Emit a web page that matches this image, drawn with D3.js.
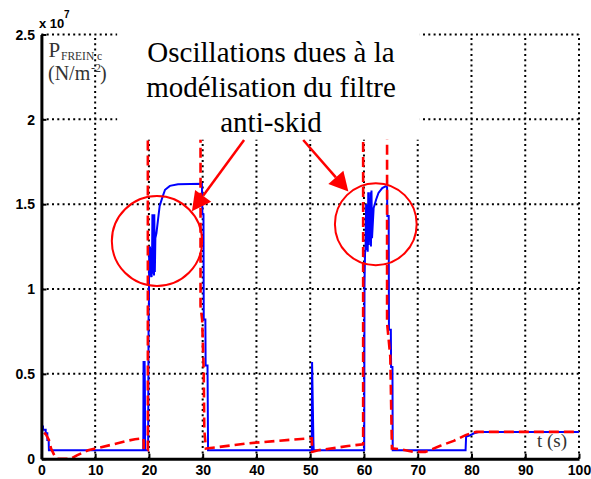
<!DOCTYPE html>
<html><head><meta charset="utf-8">
<script src="https://cdn.jsdelivr.net/npm/d3@7"></script>
<style>
body{margin:0;background:#fff;} svg{display:block;}
.serif{font-family:"Liberation Serif","DejaVu Serif",serif;}
.sans{font-family:"Liberation Sans","DejaVu Sans",sans-serif;font-weight:bold;}
</style>
</head><body>
<svg id="c" width="591" height="479"></svg>
<script>
// ---- data (pressure in units of 1e7 N/m^2, time in s) ----
const xTicks = [0,10,20,30,40,50,60,70,80,90,100];
const yTicks = [0,0.5,1,1.5,2,2.5];
const yTickLabels = ["0","0.5","1","1.5","2","2.5"];

// solid blue curve
const blueT = [0,0.05,0.3,0.3,0.8,0.8,1.1,1.1,1.35,1.4,
  18.95,19.0,19.2,19.25,19.3,19.85,19.95,20.0,20.05,20.1,20.2,20.3,20.4,20.5,20.6,20.65,20.7,20.8,20.95,21.0,21.1,21.2,21.4,21.7,22.0,22.5,23.0,23.9,25.4,29.85,29.95,30.15,30.2,30.5,30.55,30.9,31.0,
  50.3,50.35,50.6,50.65,
  60.05,60.1,60.2,60.3,60.4,60.5,60.6,60.7,60.8,60.9,61.0,61.1,61.2,61.3,61.4,61.5,61.8,62.25,62.7,63.4,64.0,64.3,64.35,64.6,64.65,65.0,65.05,65.3,65.35,
  78.9,79.0,79.5,80.5,81.5,100];
const blueV = [0.05,0.19,0.19,0.17,0.17,0.15,0.15,0.11,0.11,0.05,
  0.05,0.57,0.57,0.42,0.05,0.05,0.9,0.9,1.24,1.07,1.25,1.08,1.24,1.07,1.25,1.44,1.09,1.42,1.08,1.44,1.1,1.3,1.33,1.41,1.49,1.54,1.585,1.608,1.618,1.62,1.44,1.44,0.82,0.82,0.55,0.55,0.05,
  0.05,0.57,0.1,0.05,
  0.05,1.03,1.21,1.24,1.50,1.23,1.45,1.22,1.57,1.26,1.5,1.28,1.57,1.25,1.58,1.3,1.477,1.526,1.566,1.595,1.605,1.6,1.43,1.43,0.76,0.76,0.54,0.54,0.05,
  0.05,0.13,0.135,0.15,0.158,0.158];

// dashed red curve
const redT = [0,0.05,0.4,0.9,1.4,1.8,2.4,2.9,5.5,6.6,8.7,10.9,13.4,15.9,17.4,19.0,19.05,19.8,19.8,
  29.6,29.6,29.9,30.2,30.3,30.6,32.3,38.2,43.8,49.4,50.3,50.35,51.5,55.0,57.0,59.85,59.85,
  64.3,64.3,64.9,65.2,65.5,66.8,69.3,71.4,74.2,76.7,77.6,78.9,80.1,80.9,100];
const redV = [0,0.16,0.158,0.14,0.11,0.06,0.02,0,0,0.02,0.05,0.066,0.085,0.105,0.115,0.12,0.05,0.05,2.2,
  2.2,0.9,0.82,0.5,0.17,0.06,0.066,0.09,0.105,0.119,0.12,0.04,0.05,0.065,0.075,0.085,2.2,
  2.2,0.8,0.6,0.06,0.06,0.056,0.04,0.04,0.076,0.105,0.119,0.139,0.152,0.158,0.158];

const annotationLines = ["Oscillations dues à la","modélisation du filtre","anti-skid"];
// annotation geometry in data coordinates
const circles = [{t:21.5, v:1.283, rt:8.4, rv:0.265},{t:62.2, v:1.382, rt:7.6, rv:0.242}];
const arrows = [{t0:37.7, v0:1.878, t1:28.0, v1:1.459},{t0:48.7, v0:1.878, t1:57.1, v1:1.574}];
const textBox = {t0:14.1, t1:70.4, v0:1.88};

// ---- drawing ----
const svg = d3.select("#c");
const x = d3.scaleLinear().domain([0,100]).range([41.4,579]);
const y = d3.scaleLinear().domain([0,2.5]).range([458.7,34.5]);

// grid
const grid = svg.append("g").attr("stroke","#000").attr("stroke-width",2).attr("stroke-dasharray","2,3.3");
xTicks.filter(d=>d>0).forEach(t=>{
  grid.append("line").attr("x1",x(t)).attr("x2",x(t)).attr("y1",y(0)).attr("y2",y(2.5));
});
yTicks.filter(d=>d>0).forEach(v=>{
  grid.append("line").attr("x1",x(0)).attr("x2",x(100)).attr("y1",y(v)).attr("y2",y(v));
});

svg.append("clipPath").attr("id","clip").append("rect")
  .attr("x",x(0)).attr("y",y(2.5)).attr("width",x(100)-x(0)).attr("height",y(0)-y(2.5));

const line = d3.line().x(d=>x(d[0])).y(d=>y(d[1]));
const blue = blueT.map((t,i)=>[t,blueV[i]]);
const red = redT.map((t,i)=>[t,redV[i]]);

svg.append("path").datum(blue).attr("d",line).attr("clip-path","url(#clip)")
  .attr("fill","none").attr("stroke","#0000ff").attr("stroke-width",2).attr("stroke-linejoin","miter");
svg.append("path").datum(red).attr("d",line).attr("clip-path","url(#clip)")
  .attr("fill","none").attr("stroke","#ff0000").attr("stroke-width",2.6).attr("stroke-dasharray","10,5");

// white box behind annotation text
svg.append("rect").attr("x",x(textBox.t0)).attr("y",0)
  .attr("width",x(textBox.t1)-x(textBox.t0)).attr("height",y(textBox.v0)).attr("fill","#fff");

// annotation text
const ann = svg.append("text").attr("class","serif")
  .style("font-size","29px").attr("fill","#000").attr("text-anchor","middle");
[61.7,96.5,131.7].forEach((b,i)=>{
  ann.append("tspan").attr("x",271).attr("y",b).text(annotationLines[i]);
});

// circles
circles.forEach(c=>{
  svg.append("ellipse").attr("cx",x(c.t)).attr("cy",y(c.v))
    .attr("rx",x(c.t+c.rt)-x(c.t)).attr("ry",y(c.v)-y(c.v+c.rv))
    .attr("fill","none").attr("stroke","#ff0000").attr("stroke-width",2);
});
// arrows
arrows.forEach(a=>{
  const X0=x(a.t0),Y0=y(a.v0),X1=x(a.t1),Y1=y(a.v1);
  const dx=X1-X0, dy=Y1-Y0, L=Math.hypot(dx,dy), ux=dx/L, uy=dy/L;
  const hl=19, hw=10;
  const bx=X1-ux*hl, by=Y1-uy*hl;
  svg.append("line").attr("x1",X0).attr("y1",Y0).attr("x2",bx).attr("y2",by)
    .attr("stroke","#ff0000").attr("stroke-width",2.5);
  svg.append("polygon").attr("points",[[X1,Y1],[bx-uy*hw,by+ux*hw],[bx+uy*hw,by-ux*hw]].map(p=>p.join(",")).join(" "))
    .attr("fill","#ff0000");
});

// axes
const xAxis = d3.axisBottom(x).tickValues(xTicks).tickSizeInner(-5).tickSizeOuter(0).tickPadding(6.3);
const yAxis = d3.axisLeft(y).tickValues(yTicks).tickFormat((d,i)=>yTickLabels[i]).tickSizeInner(-5).tickSizeOuter(0).tickPadding(6.4);
const gx = svg.append("g").attr("transform",`translate(0,${y(0)})`).call(xAxis);
const gy = svg.append("g").attr("transform",`translate(${x(0)},0)`).call(yAxis);
[gx,gy].forEach(g=>{
  g.attr("font-family",null).attr("font-size",null);
  g.select(".domain").attr("stroke","#000").attr("stroke-width",3);
  g.selectAll(".tick line").attr("stroke","#000").attr("stroke-width",2);
  g.selectAll(".tick text").attr("class","sans").style("font-size","14px").attr("fill","#000");
});
gy.selectAll(".tick text").attr("dy","0.34em");

// exponent label
const ex = svg.append("text").attr("class","sans").attr("fill","#000");
ex.append("tspan").attr("x",39).attr("y",28).style("font-size","13px").text("x 10");
ex.append("tspan").attr("x",64).attr("y",18).style("font-size","10px").text("7");

// y label
const yl = svg.append("text").attr("class","serif").attr("fill","#333");
yl.append("tspan").attr("x",48.5).attr("y",56.7).style("font-size","21px").text("P");
yl.append("tspan").attr("x",61).attr("y",59.5).style("font-size","11.5px").text("FREIN c");
const yl2 = svg.append("text").attr("class","serif").attr("fill","#333").style("font-size","20px");
yl2.append("tspan").attr("x",48).attr("y",80).text("(N/m");
yl2.append("tspan").attr("x",91).attr("y",72).style("font-size","12px").text("-2");
yl2.append("tspan").attr("x",100).attr("y",80).text(")");

// x label
svg.append("text").attr("x",537).attr("y",447).attr("class","serif")
  .style("font-size","19px").attr("fill","#333").text("t (s)");
</script>
</body></html>
